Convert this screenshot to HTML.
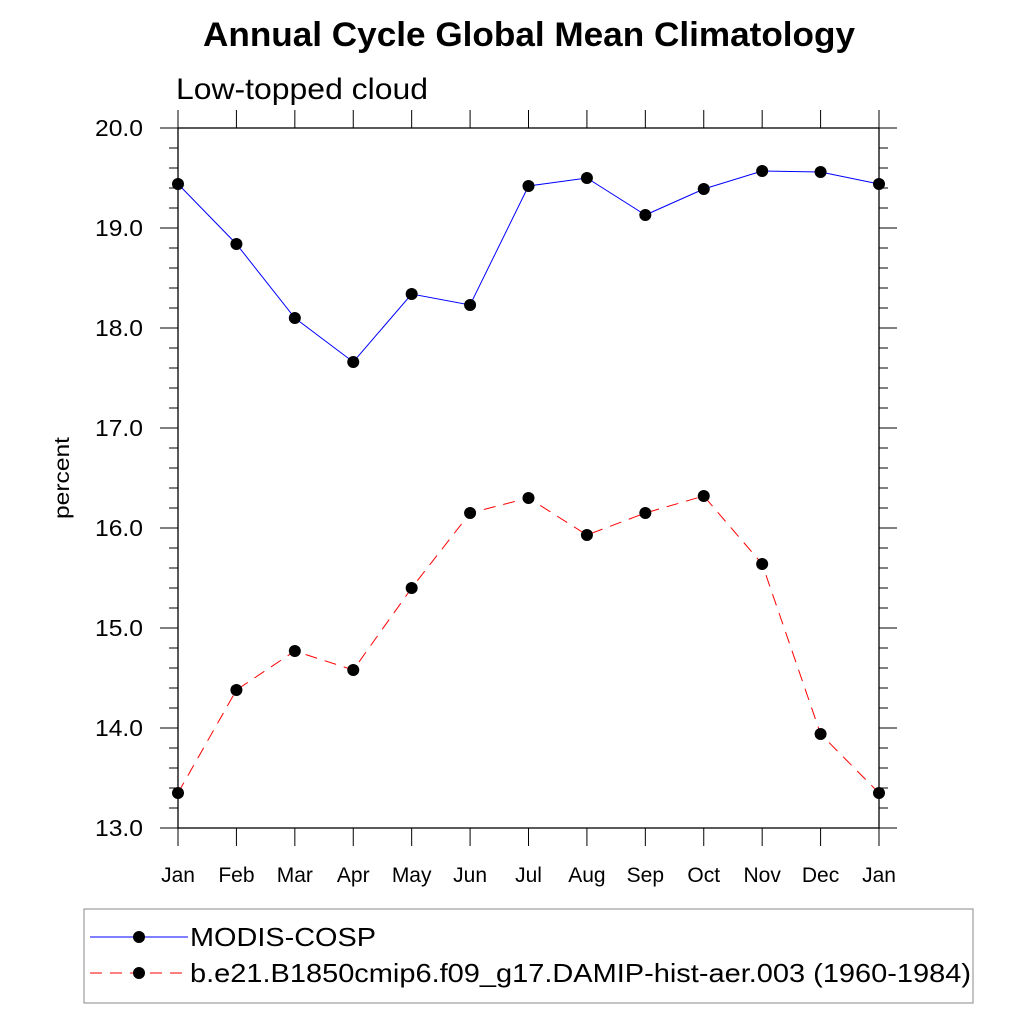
<!DOCTYPE html>
<html><head><meta charset="utf-8"><style>
body{margin:0;background:#fff;}
svg{display:block;font-family:"Liberation Sans",sans-serif;}
</style></head><body>
<svg id="chart" width="1024" height="1024" viewBox="0 0 1024 1024">
<rect width="1024" height="1024" fill="#fff"/>
<text x="203" y="46" font-size="34" font-weight="bold" textLength="652" lengthAdjust="spacingAndGlyphs">Annual Cycle Global Mean Climatology</text>
<text x="176" y="99" font-size="30" textLength="252" lengthAdjust="spacingAndGlyphs">Low-topped cloud</text>
<text transform="translate(69,478) rotate(-90)" font-size="21" text-anchor="middle" textLength="82" lengthAdjust="spacingAndGlyphs">percent</text>
<g id="axes"></g>
<g id="series"></g>
<g>
<rect x="84" y="909" width="889" height="94" fill="none" stroke="#888" stroke-width="1"/>
<line x1="90" y1="937" x2="188" y2="937" stroke="#0000ff" stroke-width="1"/>
<circle cx="139" cy="937" r="6" fill="#000"/>
<text x="190" y="946" font-size="26" textLength="186" lengthAdjust="spacingAndGlyphs">MODIS-COSP</text>
<line x1="90" y1="973" x2="188" y2="973" stroke="#ff0000" stroke-width="1" stroke-dasharray="12,8"/>
<circle cx="139" cy="973" r="6" fill="#000"/>
<text x="190" y="982" font-size="26" textLength="781" lengthAdjust="spacingAndGlyphs">b.e21.B1850cmip6.f09_g17.DAMIP-hist-aer.003 (1960-1984)</text>
</g>
</svg>
<script>
const months=["Jan","Feb","Mar","Apr","May","Jun","Jul","Aug","Sep","Oct","Nov","Dec","Jan"];
const modis=[19.44,18.84,18.10,17.66,18.34,18.23,19.42,19.50,19.13,19.39,19.57,19.56,19.44];
const model=[13.35,14.38,14.77,14.58,15.40,16.15,16.30,15.93,16.15,16.32,15.64,13.94,13.35];
const yTicks=[13,14,15,16,17,18,19,20];
const NS="http://www.w3.org/2000/svg";
const L=178,R=879,T=128,B=828,yMin=13,yMax=20;
const xs=i=>L+(R-L)*i/(months.length-1);
const ys=v=>B-(v-yMin)/(yMax-yMin)*(B-T);
function mk(tag,attrs,parent){const e=document.createElementNS(NS,tag);for(const k in attrs)e.setAttribute(k,attrs[k]);parent.appendChild(e);return e;}
const ax=document.getElementById('axes');
const box=mk('rect',{x:L,y:T,width:R-L,height:B-T,fill:'none',stroke:'#000','stroke-width':1.3},ax);


for(let v=yMin;v<=yMax+1e-9;v+=0.2){
  const y=ys(v);const major=Math.abs(v-Math.round(v))<1e-6;const len=major?18:9;
  mk('line',{x1:L-len,y1:y,x2:L,y2:y,stroke:'#000','stroke-width':1},ax);
  mk('line',{x1:R,y1:y,x2:R+len,y2:y,stroke:'#000','stroke-width':1},ax);
}
yTicks.forEach(v=>{const t=mk('text',{x:L-35,y:ys(v)+8,'font-size':23,'text-anchor':'end',textLength:48,lengthAdjust:'spacingAndGlyphs'},ax);t.textContent=v.toFixed(1);

});
months.forEach((m,i)=>{const x=xs(i);
  mk('line',{x1:x,y1:T-18,x2:x,y2:T,stroke:'#000','stroke-width':1},ax);
  mk('line',{x1:x,y1:B,x2:x,y2:B+18,stroke:'#000','stroke-width':1},ax);
  const t=mk('text',{x:x,y:882,'font-size':21,'text-anchor':'middle'},ax);t.textContent=m;
  
  });
const sg=document.getElementById('series');
function series(data,color,dash,name){
  const p=mk('polyline',{points:data.map((v,i)=>xs(i)+','+ys(v)).join(' '),fill:'none',stroke:color,'stroke-width':1,'stroke-dasharray':dash},sg);
  
  
  data.forEach((v,i)=>{const c=mk('circle',{cx:xs(i),cy:ys(v),r:6,fill:'#000'},sg);
    
    });
}
series(modis,'#0000ff','none','modis');
series(model,'#ff0000','12,8','model');
</script>
</body></html>
